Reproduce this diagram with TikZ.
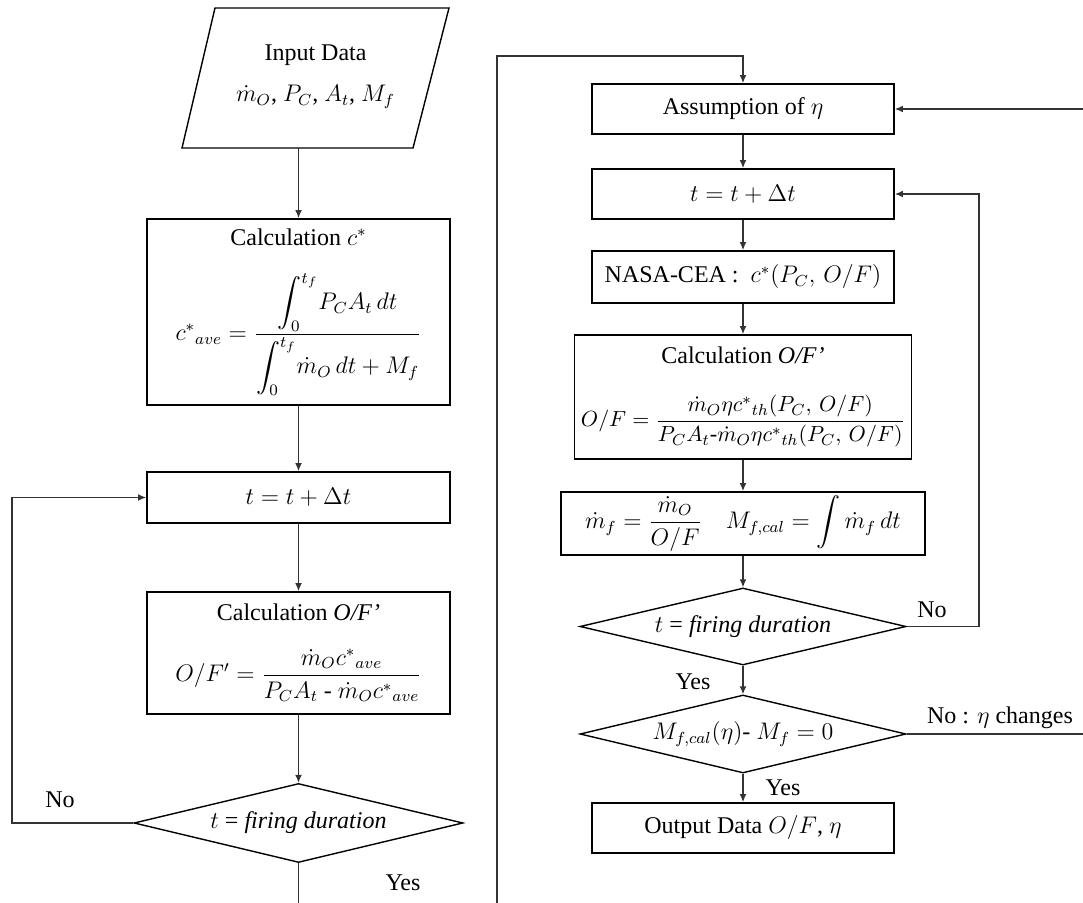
\documentclass[tikz,border=0pt]{standalone}
\usepackage{amsmath}
\usepackage{amssymb}
\usepackage{fontspec}
\setmainfont{Liberation Serif}
\usetikzlibrary{shapes.geometric,arrows.meta}

\begin{document}
\begin{tikzpicture}[x=0.5pt,y=-0.5pt,
	every node/.style={font=\fontsize{12}{14.5}\selectfont},
	box/.style={draw,line width=0.9pt,align=center,inner sep=2pt},
	dec/.style={draw,diamond,line width=0.7pt,inner sep=0pt,aspect=4.2},
	arr/.style={-{Latex[length=4pt,width=3.4pt]},line width=0.6pt,black!80},
	link/.style={line width=0.6pt,black!80}]
	\useasboundingbox (0,0) rectangle (1083,903);
	\coordinate (lx) at (12,0);
	\coordinate (rx) at (979,0);
	\coordinate (edge) at (1083,0);
	\coordinate (bot) at (0,903);
	\coordinate (top) at (0,56);
	\coordinate (back) at (497,903);
	\coordinate (inbot) at (298.5,148);

	% first loop: average c*
	\draw[line width=0.7pt] (215,8) -- (449,8) -- (413,148) -- (182,148) -- cycle;
	\node[align=center] (indata) at (315.5,77) {Input Data\\[6pt] $\dot m_O$, $P_C$, $A_t$, $M_f$};
	\node[box,minimum width=151.5pt,minimum height=93pt] (calcc) at (298.5,312) {Calculation $c^*$\\[13pt] $c^{*}{}_{ave}= \dfrac{\displaystyle\int_0^{t_f}\! P_C A_t\,dt}{\displaystyle\int_0^{t_f}\! \dot m_O\,dt+M_f}$};
	\node[box,minimum width=151.5pt,minimum height=25.5pt] (tl) at (298.5,497.5) {$t = t + \Delta t$};
	\node[box,minimum width=151.5pt,minimum height=61pt] (calcl) at (298.5,653) {Calculation \textit{O/F’}\\[13pt] $O/F' = \dfrac{\dot m_O c^{*}{}_{ave}}{P_C A_t\ \text{-}\ \dot m_O c^{*}{}_{ave}}$};
	\node[dec,minimum width=164.5pt,minimum height=39.5pt] (decl) at (298.5,823) {$t$ = \textit{firing duration}};

	% second loop: efficiency eta
	\node[box,minimum width=151pt,minimum height=25pt] (assume) at (743,109) {Assumption of $\eta$};
	\node[box,minimum width=151pt,minimum height=25pt] (tr) at (743,194) {$t = t + \Delta t$};
	\node[box,minimum width=151pt,minimum height=26pt] (nasa) at (743,277) {NASA-CEA :\ \ $c^*(P_C,\,O/F)$};
	\node[box,minimum width=168.5pt,minimum height=62pt,inner sep=1pt] (calcr) at (743,397) {Calculation \textit{O/F’}\\[15pt] \fontsize{11.3}{14}\selectfont $O/F = \dfrac{\dot m_O\eta c^{*}{}_{th}(P_C,\,O/F)}{P_CA_t\text{-}\dot m_O\eta c^{*}{}_{th}(P_C,\,O/F)}$};
	\node[box,minimum width=182pt,minimum height=31.5pt] (mf) at (743,523.5) {$\dot m_f = \dfrac{\dot m_O}{O/F}\quad M_{f,cal}= \displaystyle\int \dot m_f\,dt$};
	\node[dec,minimum width=163pt,minimum height=38.5pt] (decr) at (743,626.5) {$t$ = \textit{firing duration}};
	\node[dec,minimum width=163pt,minimum height=39pt] (decm) at (743,734) {$M_{f,cal}(\eta)$- $M_f = 0$};
	\node[box,minimum width=151pt,minimum height=25pt] (out) at (743,828) {Output Data $O/F$, $\eta$};

	\node (nol) at (60,800) {No};
	\node (yesl) at (403,883) {Yes};
	\node (nor) at (932,610) {No};
	\node (yesr) at (693,682) {Yes};
	\node (yesm) at (783,788) {Yes};
	\node (noeta) at (1000,718) {No : $\eta$ changes};

	\draw[arr] (inbot) -- (calcc.north);
	\draw[arr] (calcc) -- (tl);
	\draw[arr] (tl) -- (calcl);
	\draw[arr] (calcl) -- (decl);
	\draw[arr] (decl.west) -- (decl.west -| lx) |- (tl.west);
	\draw[link] (decl.south) -- (decl.south |- bot);
	\draw[arr] (back) |- (assume.north |- top) -- (assume.north);
	\draw[arr] (assume) -- (tr);
	\draw[arr] (tr) -- (nasa);
	\draw[arr] (nasa) -- (calcr);
	\draw[arr] (calcr) -- (mf);
	\draw[arr] (mf) -- (decr);
	\draw[arr] (decr) -- (decm);
	\draw[arr] (decm) -- (out);
	\draw[arr] (decr.east) -- (decr.east -| rx) |- (tr.east);
	\draw[link] (decm.east) -- (decm.east -| edge);
	\draw[arr] (assume.east -| edge) -- (assume.east);
\end{tikzpicture}
\end{document}
